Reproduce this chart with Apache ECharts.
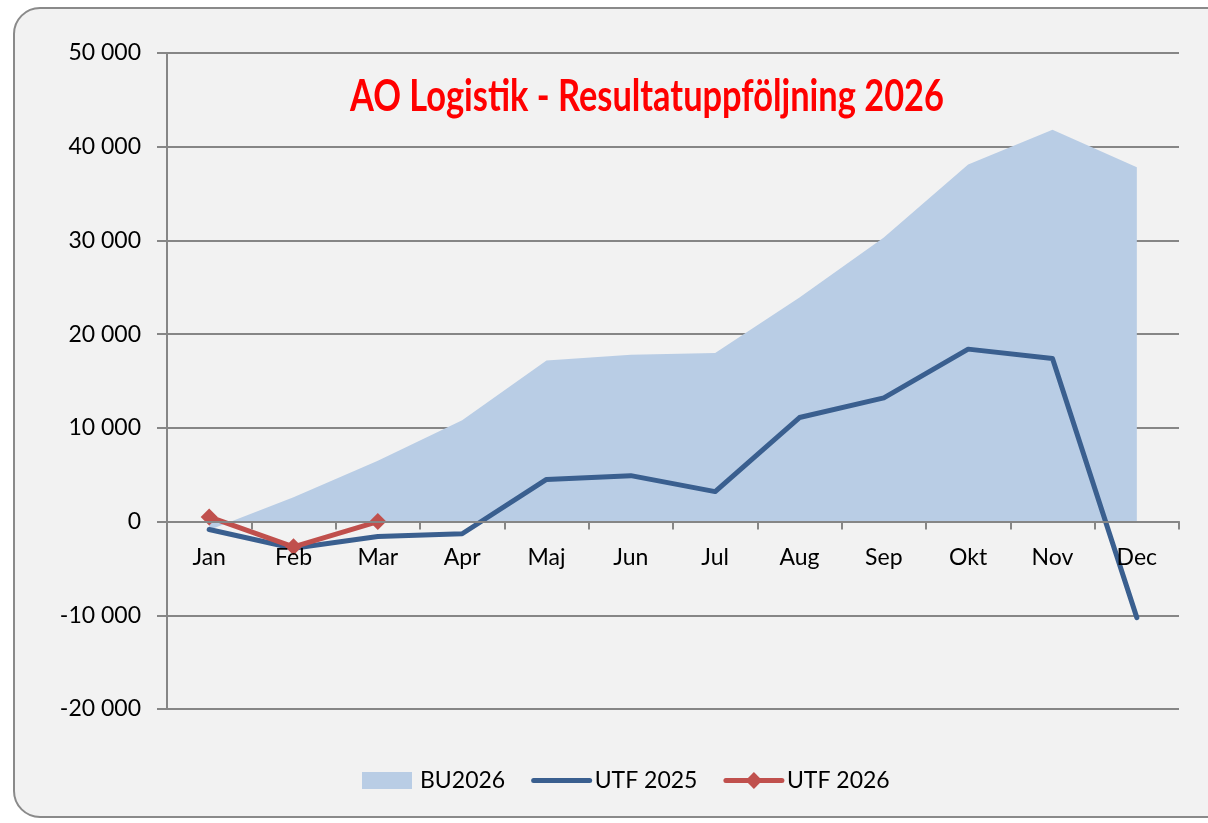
<!DOCTYPE html>
<html>
<head>
<meta charset="utf-8">
<script src="https://cdn.jsdelivr.net/npm/echarts@6/dist/echarts.min.js"></script>
<style>
html,body{margin:0;padding:0;background:#ffffff;}
#chart{width:1208px;height:823px;}
</style>
</head>
<body>
<div id="chart"></div>
<script>
const categories = ['Jan','Feb','Mar','Apr','Maj','Jun','Jul','Aug','Sep','Okt','Nov','Dec'];
const bu2026 = [-900, 2600, 6500, 10800, 17200, 17800, 18000, 23900, 30300, 38100, 41800, 37800];
const utf2025 = [-850, -2850, -1600, -1300, 4500, 4900, 3200, 11100, 13200, 18400, 17400, -10250];
const utf2026 = [500, -2700, 0];
const yTicks = { min: -20000, max: 50000, interval: 10000 };
const titleText = 'AO Logistik - Resultatuppföljning 2026';

function fmt(v){
  const s = Math.abs(v).toString().replace(/\B(?=(\d{3})+(?!\d))/g, ' ');
  return (v < 0 ? '-' : '') + s;
}

const W = 1208, H = 823;
const gridTop = 53, gridBottom = 114;
const plotH = H - gridTop - gridBottom;
const zeroOffset = -plotH * (0 - yTicks.min) / (yTicks.max - yTicks.min);

const chart = echarts.init(document.getElementById('chart'), null, {renderer:'canvas'});
const font = 'Lato';
chart.setOption({
  backgroundColor: '#ffffff',
  animation: false,
  graphic: [{
    type: 'rect',
    z: -100,
    silent: true,
    shape: { x: 14, y: 8, width: 1220, height: 809, r: 26 },
    style: { fill: '#f2f2f2', stroke: '#8a8a8a', lineWidth: 2 }
  }, {
    type: 'text',
    z: 100,
    silent: true,
    x: 647, y: 97,
    scaleY: 1.25,
    style: {
      text: titleText, x: 0, y: 0,
      align: 'center', verticalAlign: 'middle',
      font: 'bold 34.4px Lato', fill: '#ff0000'
    }
  }],
  legend: {
    left: 354,
    top: 764,
    itemWidth: 56,
    itemHeight: 21,
    itemGap: 26,
    textStyle: { fontFamily: font, fontSize: 23, color: '#000' },
    data: [
      { name: 'BU2026', icon: 'path://M0,0L0,0M3,2L53,2L53,19L3,19ZM56,21L56,21' },
      { name: 'UTF 2025', itemStyle: { opacity: 0 }, lineStyle: { width: 5, cap: 'round' } },
      { name: 'UTF 2026', lineStyle: { width: 5, cap: 'round' } }
    ]
  },
  grid: { left: 167, right: 29, top: gridTop, bottom: gridBottom, containLabel: false },
  xAxis: {
    type: 'category',
    data: categories,
    boundaryGap: true,
    z: 10,
    offset: zeroOffset,
    axisLine: { onZero: false, lineStyle: { color: '#868686', width: 2 } },
    axisTick: { show: true, length: 8, lineStyle: { color: '#868686', width: 2 } },
    axisLabel: { margin: 25, fontFamily: font, fontSize: 23, color: '#000' },
    splitLine: { show: false }
  },
  yAxis: {
    type: 'value',
    min: yTicks.min, max: yTicks.max, interval: yTicks.interval,
    axisLine: { show: true, lineStyle: { color: '#868686', width: 2 } },
    axisTick: { show: true, length: 10, lineStyle: { color: '#868686', width: 2 } },
    axisLabel: { margin: 26, fontFamily: font, fontSize: 23, color: '#000', formatter: fmt },
    splitLine: { show: true, lineStyle: { color: '#868686', width: 2 } }
  },
  series: [
    {
      name: 'BU2026', type: 'line', data: bu2026, symbol: 'none', z: 1,
      itemStyle: { color: '#b9cde5' },
      lineStyle: { width: 0, color: '#b9cde5' },
      areaStyle: { color: '#b9cde5', opacity: 1 }
    },
    {
      name: 'UTF 2025', type: 'line', data: utf2025, symbol: 'none', z: 3,
      itemStyle: { color: '#3a5f8f' },
      lineStyle: { width: 5, color: '#3a5f8f', cap: 'round', join: 'round' }
    },
    {
      name: 'UTF 2026', type: 'line', data: utf2026, symbol: 'diamond', symbolSize: 17, z: 4,
      itemStyle: { color: '#c0504d' },
      lineStyle: { width: 5, color: '#c0504d', cap: 'round', join: 'round' }
    }
  ]
});
</script>
</body>
</html>
